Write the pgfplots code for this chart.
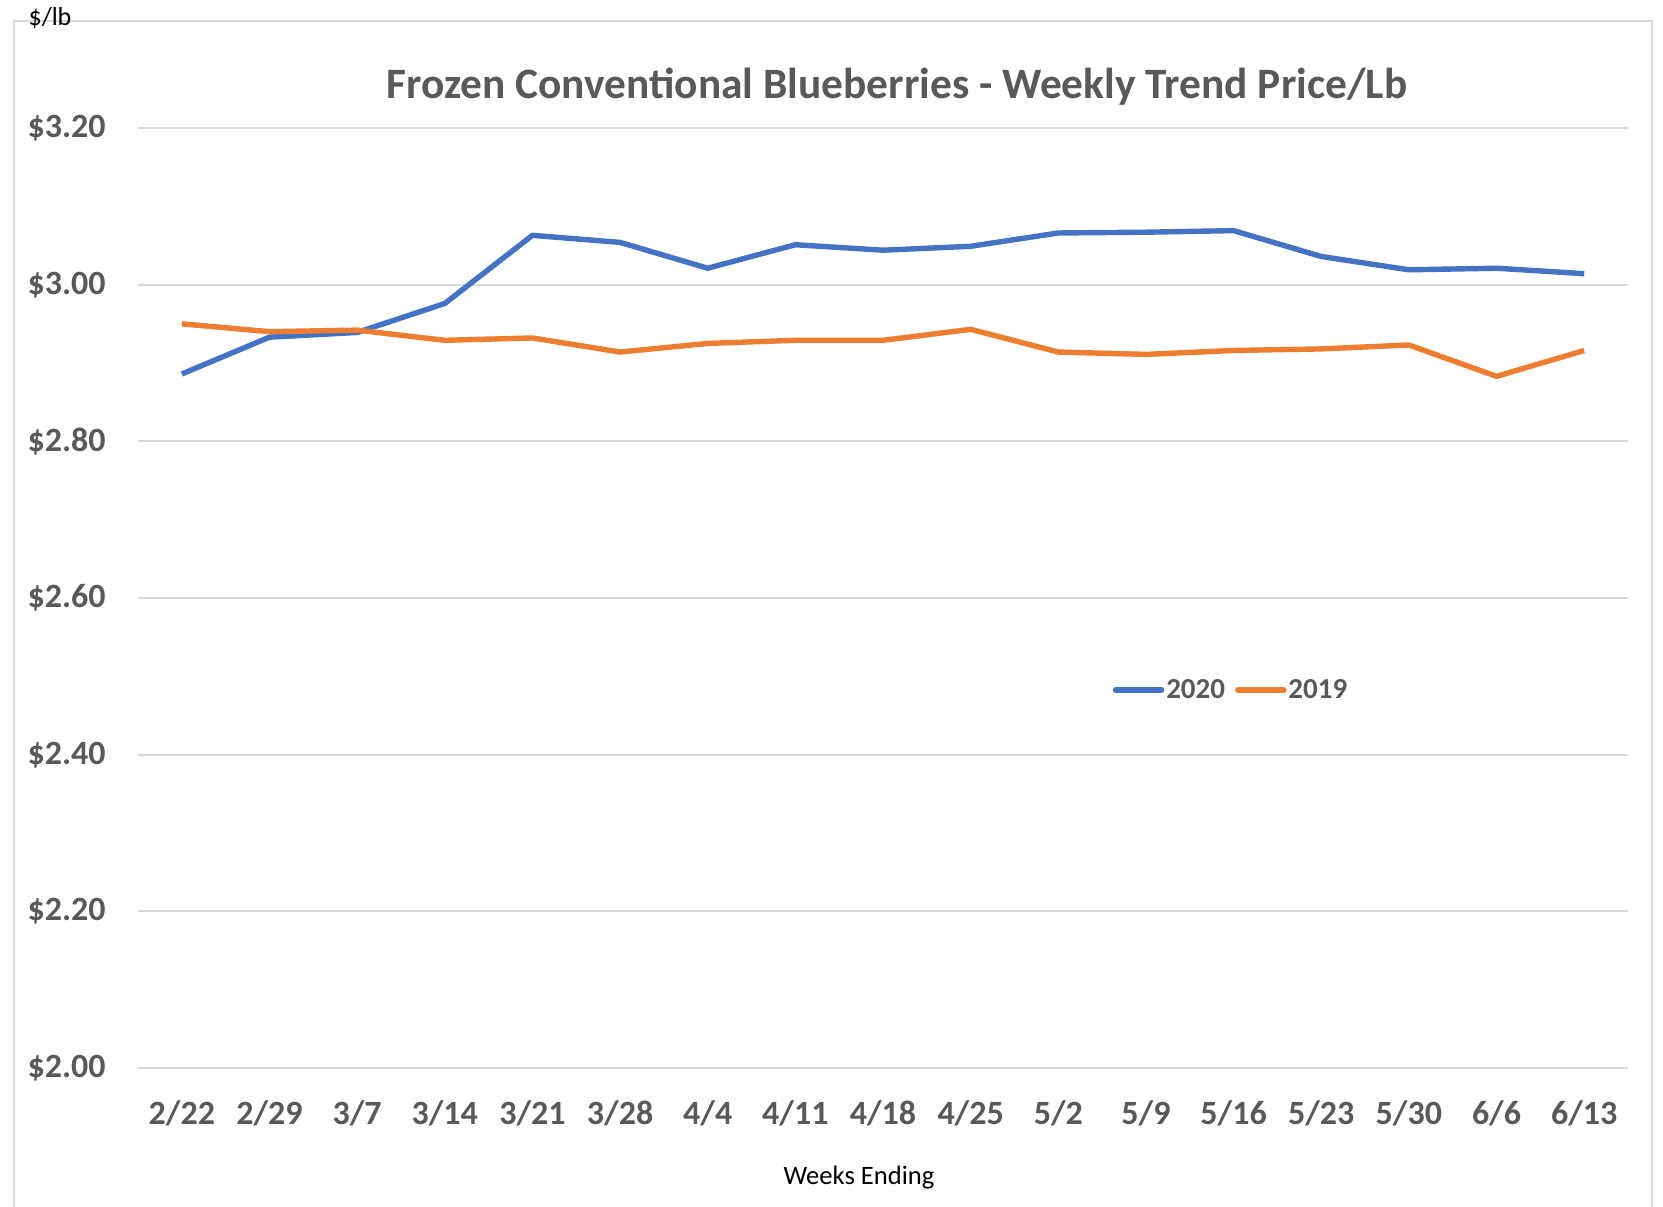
\documentclass[border=0pt]{standalone}
\usepackage{fontspec}
\setmainfont{Carlito}
\usepackage{pgfplots}
\pgfplotsset{compat=1.18}
\definecolor{blue20}{HTML}{4472C4}
\definecolor{orange19}{HTML}{ED7D31}
\definecolor{txtgray}{HTML}{595959}
\definecolor{gridgray}{HTML}{D9D9D9}
\begin{document}
\begin{tikzpicture}
\path[use as bounding box] (0pt,0pt) rectangle (831.5pt,-603pt);
\draw[gridgray, line width=1pt] (7pt,-610pt) -- (7pt,-10.5pt) -- (826pt,-10.5pt) -- (826pt,-610pt);
\begin{axis}[
  at={(69pt,-534pt)}, anchor=south west,
  width=745pt, height=470pt, scale only axis,
  xmin=-0.5, xmax=16.5, ymin=2.0, ymax=3.2,
  xtick={0,...,16},
  xticklabels={2/22,2/29,3/7,3/14,3/21,3/28,4/4,4/11,4/18,4/25,5/2,5/9,5/16,5/23,5/30,6/6,6/13},
  ytick={2.0,2.2,2.4,2.6,2.8,3.0,3.2},
  /pgf/number format/.cd, fixed, fixed zerofill, precision=2, assume math mode=true,
  /pgfplots/.cd,
  yticklabel={\$\pgfmathprintnumber{\tick}},
  axis line style={draw=none},
  major tick length=0pt,
  ymajorgrids,
  grid style={gridgray, line width=1pt},
  tick label style={font=\fontsize{17}{20}\selectfont\bfseries, text=txtgray},
  yticklabel style={anchor=east, inner sep=0pt, xshift=-16pt},
  xticklabel style={anchor=base, inner sep=0pt, yshift=-28pt},
  legend style={at={(0.654,0.402)}, anchor=west, draw=none, fill=none, inner sep=0pt,
    font=\fontsize{14.5}{17}\selectfont\bfseries, text=txtgray,
    nodes={inner sep=1pt}},
  legend columns=2,
  /tikz/every even column/.append style={column sep=4pt},
  legend image code/.code={\draw[#1, line cap=round] (0pt,0pt) -- (23pt,0pt);},
]
\addplot[blue20, line width=2.7pt, line join=round] coordinates {
(0,2.886) (1,2.933) (2,2.939) (3,2.976) (4,3.063) (5,3.054) (6,3.021) (7,3.051) (8,3.044)
(9,3.049) (10,3.066) (11,3.067) (12,3.069) (13,3.036) (14,3.019) (15,3.021) (16,3.014)};
\addlegendentry{2020}
\addplot[orange19, line width=2.7pt, line join=round] coordinates {
(0,2.950) (1,2.940) (2,2.942) (3,2.929) (4,2.932) (5,2.914) (6,2.925) (7,2.929) (8,2.929)
(9,2.943) (10,2.914) (11,2.911) (12,2.916) (13,2.918) (14,2.923) (15,2.883) (16,2.916)};
\addlegendentry{2019}
\end{axis}
\node[font=\fontsize{21.7}{26}\selectfont\bfseries, text=txtgray] at (448.5pt,-43.5pt) {Frozen Conventional Blueberries - Weekly Trend Price/Lb};
\node[font=\fontsize{13.3}{16}\selectfont] at (429.5pt,-589pt) {Weeks Ending};
\node[font=\fontsize{13}{16}\selectfont] at (25pt,-9pt) {\$/lb};
\end{tikzpicture}
\end{document}
